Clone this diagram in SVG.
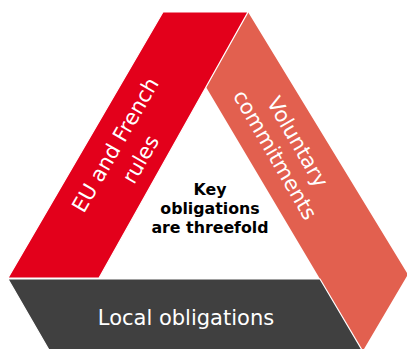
<svg xmlns="http://www.w3.org/2000/svg" width="407" height="349" viewBox="0 0 407 349">
<style>
.band{stroke:#ffffff;stroke-width:1.2;stroke-linejoin:miter}
.lbl{font-family:"DejaVu Sans",Verdana,sans-serif;fill:#ffffff;font-size:21px;text-anchor:middle}
.key{font-family:"DejaVu Sans",Verdana,sans-serif;fill:#000000;font-size:15.8px;font-weight:bold;text-anchor:middle}
</style>
<rect width="407" height="349" fill="#ffffff"/>
<g id="voluntary">
<polygon points="248,12 407,273 407,276 364,349 361,349 320,279 206,87" fill="#E2604F"/>
<text class="lbl" transform="translate(287,148) rotate(60)"><tspan x="0" y="-5">Voluntary</tspan><tspan x="0" y="21">commitments</tspan></text>
</g>
<g id="eu-french">
<polygon class="band" points="163,12 248,12 99,278 8,278" fill="#E3001B"/>
<text class="lbl" transform="translate(126,151) rotate(-60)"><tspan x="0" y="-5">EU and French</tspan><tspan x="0" y="24">rules</tspan></text>
</g>
<g id="local">
<polygon class="band" points="8,279 320,279 362,350 49,350" fill="#404040"/>
<text class="lbl" x="186" y="325">Local obligations</text>
</g>
<g id="center">
<text class="key"><tspan x="210" y="195">Key</tspan><tspan x="210" y="214">obligations</tspan><tspan x="210" y="233">are threefold</tspan></text>
</g>
<g id="connectors"/>
</svg>
